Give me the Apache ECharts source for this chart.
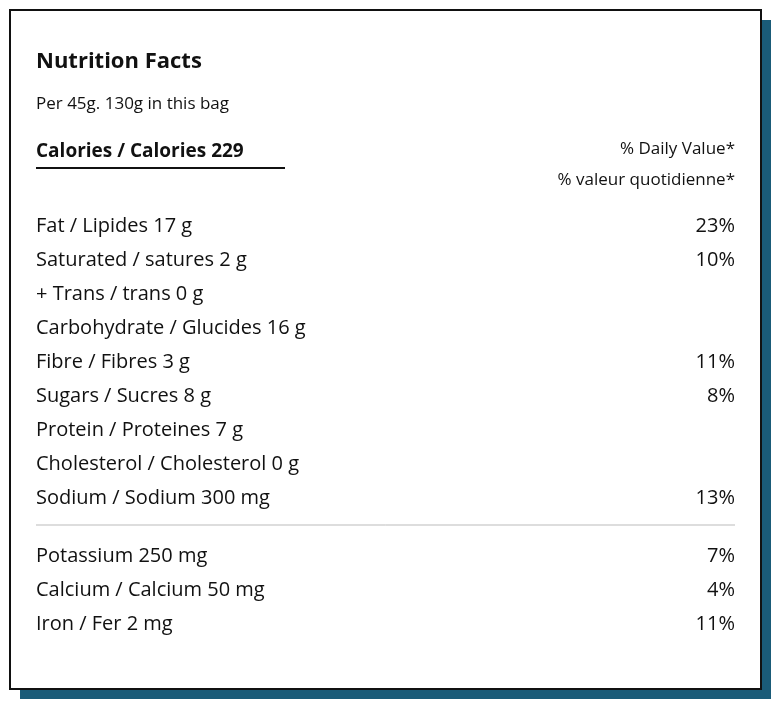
<!DOCTYPE html>
<html><head><meta charset="utf-8">
<script src="https://cdn.jsdelivr.net/npm/echarts@6/dist/echarts.min.js"></script>
<style>html,body{margin:0;padding:0;background:#fff}#c{width:778px;height:706px}</style>
</head><body><div id="c"></div>
<script>
const title = "Nutrition Facts";
const servingText = "Per 45g. 130g in this bag";
const caloriesLabel = "Calories / Calories 229";
const dvHeaders = ["% Daily Value*", "% valeur quotidienne*"];
const nutrientsTop = ["Fat / Lipides 17 g","Saturated / satures 2 g","+ Trans / trans 0 g","Carbohydrate / Glucides 16 g","Fibre / Fibres 3 g","Sugars / Sucres 8 g","Protein / Proteines 7 g","Cholesterol / Cholesterol 0 g","Sodium / Sodium 300 mg"];
const dvTop = ["23%","10%","","","11%","8%","","","13%"];
const nutrientsBottom = ["Potassium 250 mg","Calcium / Calcium 50 mg","Iron / Fer 2 mg"];
const dvBottom = ["7%","4%","11%"];

const F = "'Open Sans', sans-serif";
const chart = echarts.init(document.getElementById('c'));
const g = [];
g.push({type:'rect',shape:{x:20,y:20,width:751,height:679},style:{fill:'#1a5b78'}});
g.push({type:'rect',shape:{x:10,y:10,width:751,height:679},style:{fill:'#fff',stroke:'#111',lineWidth:2}});
function txt(x,y,t,size,weight,align){
  g.push({type:'text',x:x,y:y,style:{text:t,font:(weight||'normal')+' '+size+'px '+F,fill:'#111',align:align||'left',verticalAlign:'middle'}});
}
txt(36,62,title,22,'bold');
txt(36,104,servingText,17);
txt(36,152,caloriesLabel,19,'bold');
g.push({type:'line',shape:{x1:36,y1:168,x2:285,y2:168},style:{stroke:'#111',lineWidth:2}});
txt(735,149,dvHeaders[0],17,'normal','right');
txt(735,180,dvHeaders[1],17,'normal','right');
nutrientsTop.forEach((n,i)=>{const y=226+i*34;txt(36,y,n,20);if(dvTop[i])txt(735,y,dvTop[i],20,'normal','right');});
g.push({type:'line',shape:{x1:36,y1:525,x2:735,y2:525},style:{stroke:'#bbb',lineWidth:1}});
nutrientsBottom.forEach((n,i)=>{const y=556+i*34;txt(36,y,n,20);txt(735,y,dvBottom[i],20,'normal','right');});
chart.setOption({animation:false,graphic:{elements:g}});
</script></body></html>
